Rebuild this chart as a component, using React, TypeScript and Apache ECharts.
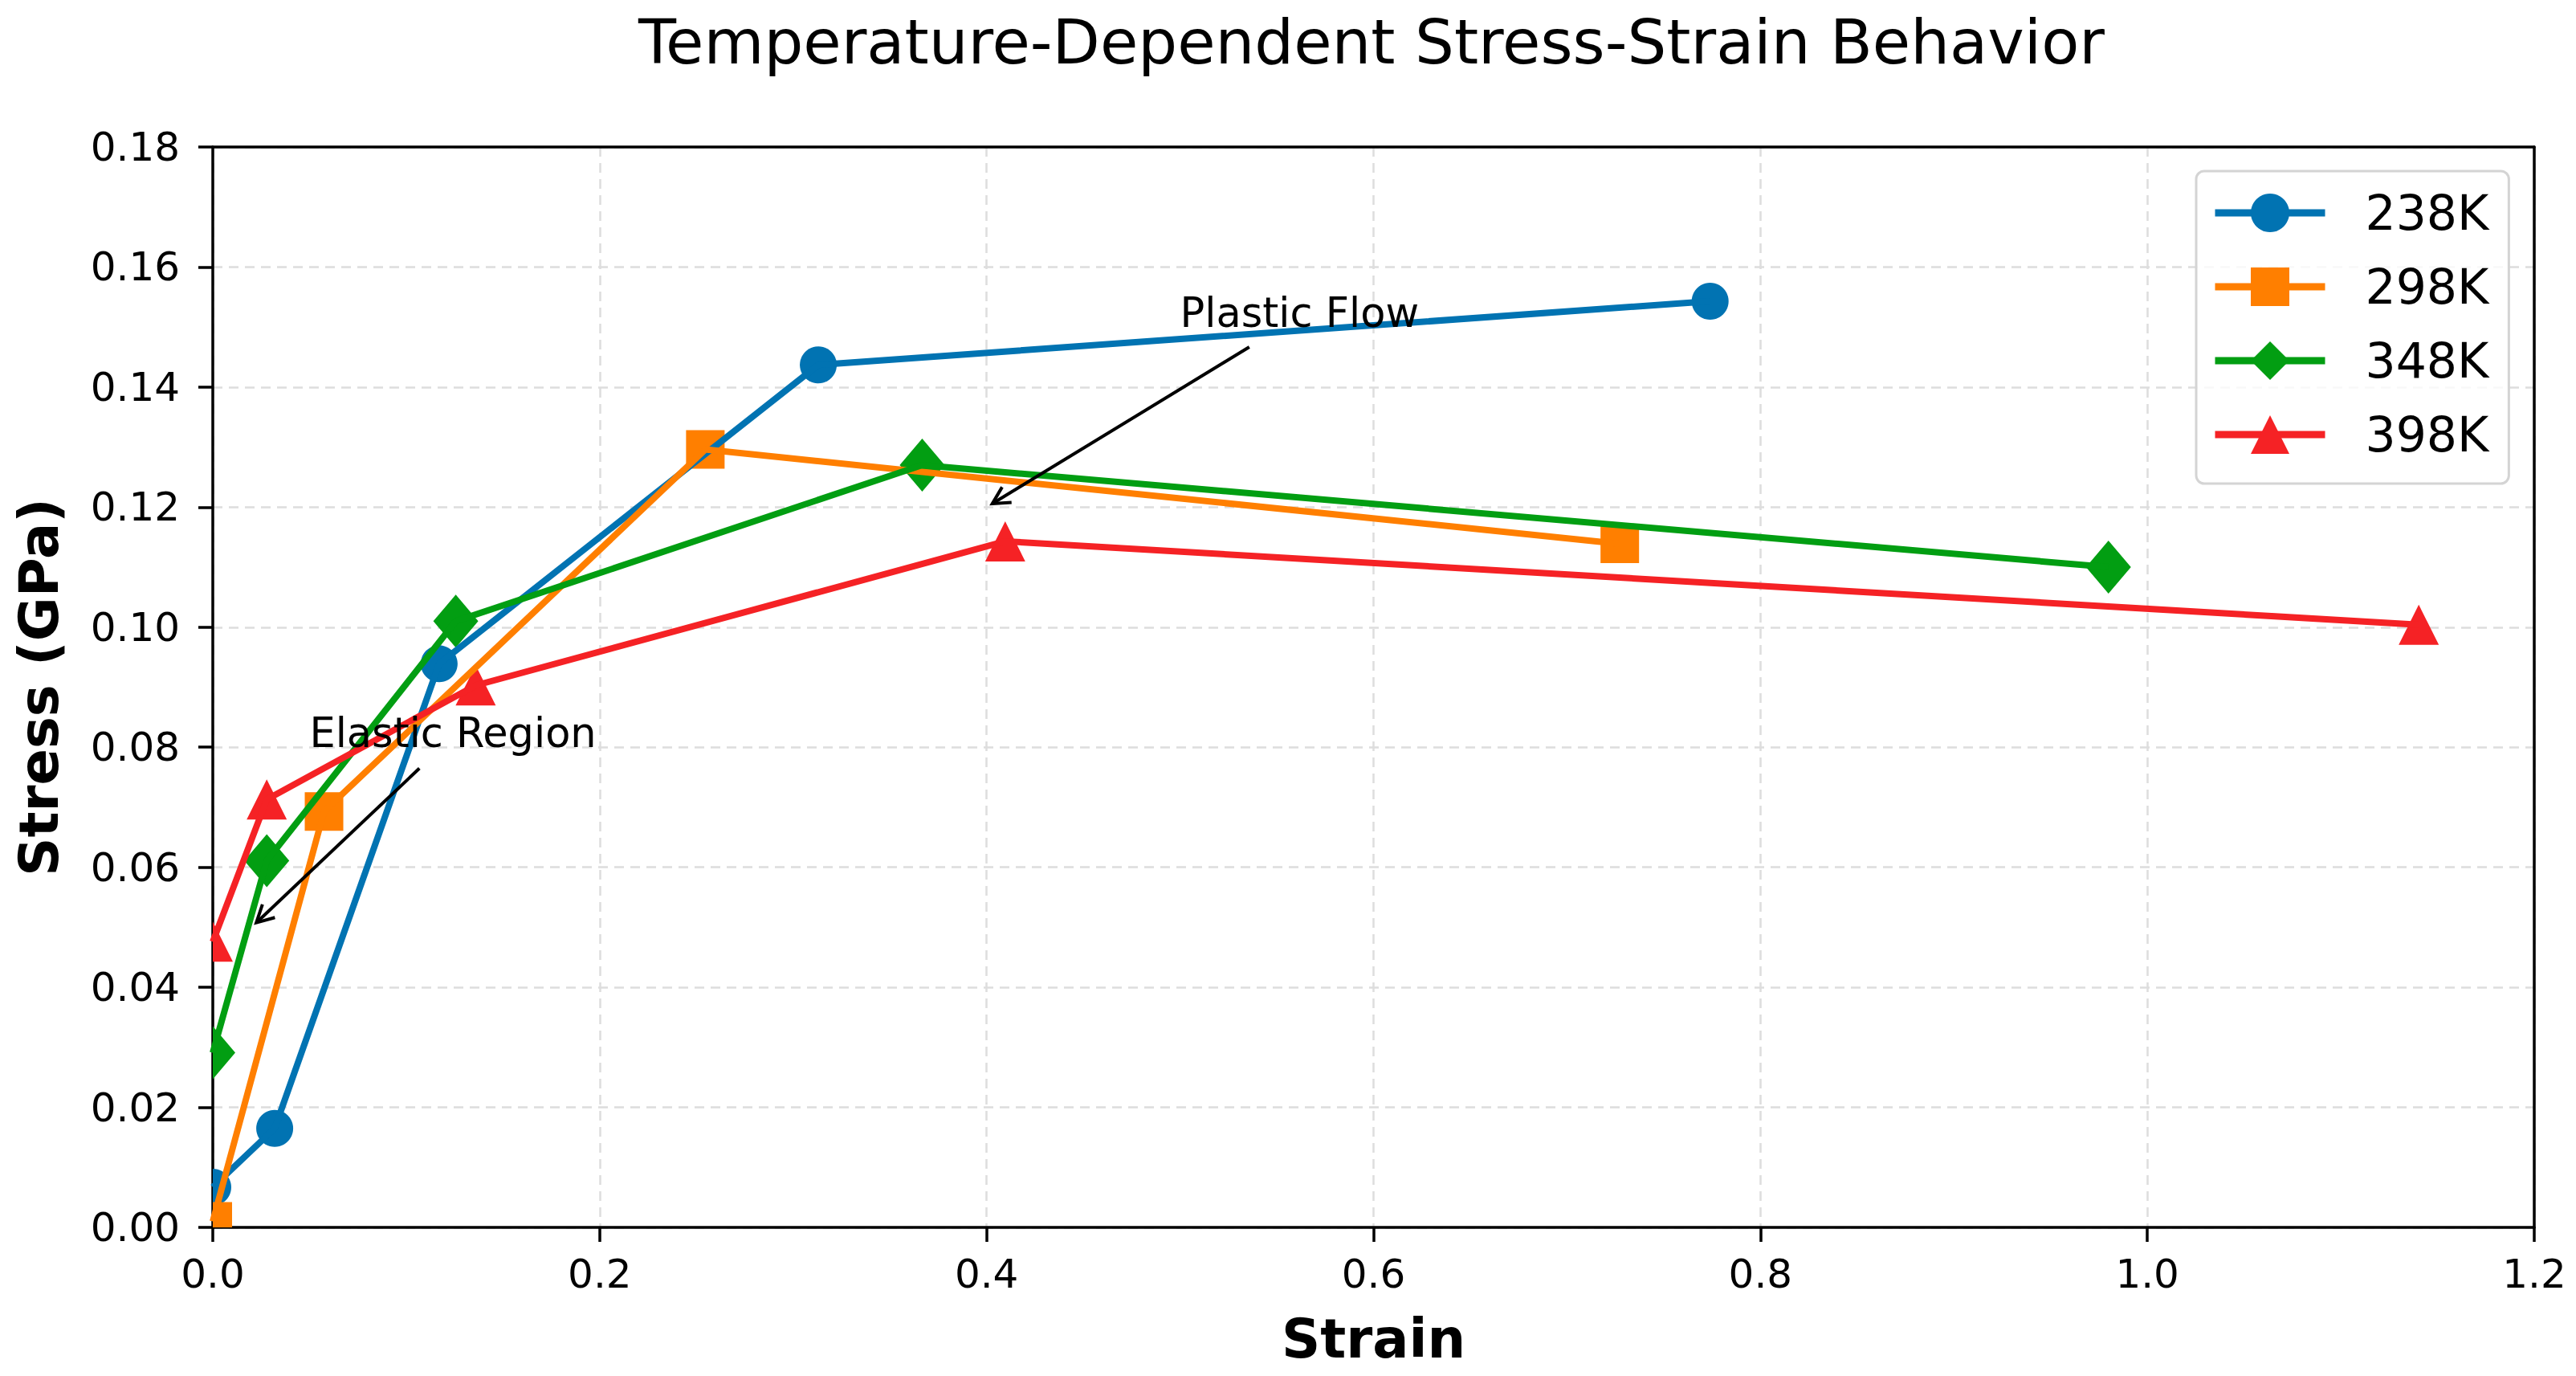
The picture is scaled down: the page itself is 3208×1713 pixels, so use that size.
import React, { useEffect, useRef } from "react";
import * as echarts from "echarts";

const TITLE = "Temperature-Dependent Stress-Strain Behavior";
const X_NAME = "Strain";
const Y_NAME = "Stress (GPa)";

const xTicks = [0, 0.2, 0.4, 0.6, 0.8, 1.0, 1.2];
const yTicks = [0, 0.02, 0.04, 0.06, 0.08, 0.1, 0.12, 0.14, 0.16, 0.18];

const seriesNames = ["238K", "298K", "348K", "398K"];
const seriesColors = ["#0173b2", "#ff7f00", "#029e12", "#f52225"];
const seriesSymbols = ["circle", "rect", "diamond", "triangle"];

const strain238K = [0, 0.032, 0.117, 0.313, 0.774];
const stress238K = [0.0067, 0.0165, 0.0939, 0.1437, 0.1543];
const strain298K = [0, 0.0575, 0.2546, 0.7273];
const stress298K = [0.001, 0.0693, 0.1296, 0.1139];
const strain348K = [0, 0.0279, 0.1256, 0.3667, 0.9799];
const stress348K = [0.0291, 0.0611, 0.101, 0.127, 0.11];
const strain398K = [0, 0.0279, 0.1359, 0.4096, 1.1403];
const stress398K = [0.0476, 0.0713, 0.0903, 0.1143, 0.1004];

const strains = [strain238K, strain298K, strain348K, strain398K];
const stresses = [stress238K, stress298K, stress348K, stress398K];

const annotationTexts = ["Plastic Flow", "Elastic Region"];
const annotationTargets = [
  [0.4, 0.12],
  [0.02, 0.05],
];
const annotationTextAnchors = [
  [0.5, 0.15],
  [0.05, 0.08],
];

const FONT = "DejaVu Sans";
const W = 3208;
const H = 1713;

function measure(text: string, font: string): number {
  const c = document.createElement("canvas");
  const ctx = c.getContext("2d");
  if (!ctx) return text.length * 30;
  ctx.font = font;
  return ctx.measureText(text).width;
}

function markerRenderer(kind: string, color: string) {
  return (_params: any, api: any) => {
    const p = api.coord([api.value(0), api.value(1)]);
    const x = p[0];
    const y = p[1];
    if (kind === "circle") {
      return { type: "circle", shape: { cx: x, cy: y, r: 23 }, style: { fill: color } };
    }
    if (kind === "rect") {
      return { type: "rect", shape: { x: x - 24, y: y - 24, width: 48, height: 48 }, style: { fill: color } };
    }
    if (kind === "diamond") {
      return {
        type: "polygon",
        shape: { points: [[x, y - 33], [x + 28, y], [x, y + 33], [x - 28, y]] },
        style: { fill: color },
      };
    }
    return {
      type: "polygon",
      shape: { points: [[x, y - 25], [x + 25, y + 25], [x - 25, y + 25]] },
      style: { fill: color },
    };
  };
}

export default function App() {
  const ref = useRef<HTMLDivElement>(null);

  useEffect(() => {
    if (!ref.current) return;
    const chart = echarts.init(ref.current, null, { renderer: "svg" });

    const titleFs = 77;
    const titleW = measure(TITLE, `${titleFs}px "${FONT}"`);

    const series: any[] = [];
    seriesNames.forEach((name, i) => {
      const data = strains[i].map((x, j) => [x, stresses[i][j]]);
      series.push({
        type: "line",
        name,
        data,
        symbol: seriesSymbols[i],
        symbolSize: 46,
        showSymbol: false,
        clip: true,
        color: seriesColors[i],
        lineStyle: { color: seriesColors[i], width: 8 },
        itemStyle: { color: seriesColors[i] },
        emphasis: { disabled: true },
      });
      series.push({
        type: "custom",
        name: name + " markers",
        data,
        clip: true,
        encode: { x: 0, y: 1 },
        renderItem: markerRenderer(seriesSymbols[i], seriesColors[i]),
        silent: true,
      });
    });

    const frameAxis = {
      axisLine: { show: true, onZero: false, lineStyle: { color: "#000", width: 3.5 } },
      axisTick: { show: false },
      axisLabel: { show: false },
      splitLine: { show: false },
    };

    const option: any = {
      animation: false,
      backgroundColor: "#ffffff",
      textStyle: { fontFamily: FONT },
      title: {
        text: TITLE,
        left: 1708 - titleW / 2 - 5,
        top: 9,
        textStyle: { fontSize: titleFs, fontWeight: "normal", color: "#000", fontFamily: FONT },
      },
      legend: {
        data: seriesNames,
        orient: "vertical",
        left: 2735,
        top: 213,
        padding: [22, 25, 31, 19],
        itemWidth: 137,
        itemHeight: 60,
        itemGap: 32,
        selectedMode: false,
        backgroundColor: "rgba(255,255,255,0.8)",
        borderColor: "#d4d4d4",
        borderWidth: 3,
        borderRadius: 10,
        lineStyle: { width: 9 },
        textStyle: { fontSize: 60, color: "#000", fontFamily: FONT, padding: [0, 0, 0, 45] },
      },
      grid: {
        left: 265,
        right: W - 3156,
        top: 183,
        bottom: H - 1528,
        show: false,
      },
      xAxis: [
        {
          type: "value",
          min: xTicks[0],
          max: xTicks[xTicks.length - 1],
          interval: 0.2,
          name: X_NAME,
          nameLocation: "middle",
          nameGap: 105,
          nameTextStyle: { fontSize: 67, fontWeight: "bold", color: "#000", fontFamily: FONT },
          axisLine: { show: true, onZero: false, lineStyle: { color: "#000", width: 3.5 } },
          axisTick: { show: true, inside: false, length: 18, lineStyle: { color: "#000", width: 3.5 } },
          axisLabel: {
            fontSize: 50,
            color: "#000",
            margin: 33,
            fontFamily: FONT,
            formatter: (v: number) => v.toFixed(1),
          },
          splitLine: { show: true, lineStyle: { color: "#dddddd", width: 2.5, type: [12, 8] } },
        },
        {
          type: "value",
          position: "top",
          min: xTicks[0],
          max: xTicks[xTicks.length - 1],
          interval: 0.2,
          ...frameAxis,
        },
      ],
      yAxis: [
        {
          type: "value",
          min: yTicks[0],
          max: yTicks[yTicks.length - 1],
          interval: 0.02,
          name: Y_NAME,
          nameLocation: "middle",
          nameRotate: 90,
          nameGap: 183,
          nameTextStyle: { fontSize: 67, fontWeight: "bold", color: "#000", fontFamily: FONT },
          axisLine: { show: true, onZero: false, lineStyle: { color: "#000", width: 3.5 } },
          axisTick: { show: true, inside: false, length: 18, lineStyle: { color: "#000", width: 3.5 } },
          axisLabel: {
            fontSize: 50,
            color: "#000",
            margin: 41,
            fontFamily: FONT,
            formatter: (v: number) => v.toFixed(2),
          },
          splitLine: { show: true, lineStyle: { color: "#dddddd", width: 2.5, type: [12, 8] } },
        },
        {
          type: "value",
          position: "right",
          min: yTicks[0],
          max: yTicks[yTicks.length - 1],
          interval: 0.02,
          ...frameAxis,
        },
      ],
      series,
    };

    chart.setOption(option);

    // Annotations (matplotlib-like annotate with "->" arrows)
    const annFs = 51;
    const shrink = 8.3;
    const pad = 8.3;
    const graphics: any[] = [];
    annotationTexts.forEach((txt, i) => {
      const tp = chart.convertToPixel({ xAxisIndex: 0, yAxisIndex: 0 }, annotationTextAnchors[i]) as number[];
      const P = chart.convertToPixel({ xAxisIndex: 0, yAxisIndex: 0 }, annotationTargets[i]) as number[];
      const w = measure(txt, `${annFs}px "${FONT}"`);
      const x0 = tp[0];
      const x1 = tp[0] + w;
      const y0 = tp[1] - 0.76 * annFs;
      const y1 = tp[1] + 0.24 * annFs;
      const cx = (x0 + x1) / 2;
      const cy = (y0 + y1) / 2;
      const dx = P[0] - cx;
      const dy = P[1] - cy;
      const len = Math.hypot(dx, dy);
      const ux = dx / len;
      const uy = dy / len;
      const hw = (x1 - x0) / 2 + pad;
      const hh = (y1 - y0) / 2 + pad;
      const t = Math.min(Math.abs(dx) > 1e-6 ? hw / Math.abs(dx) : 1e9, Math.abs(dy) > 1e-6 ? hh / Math.abs(dy) : 1e9);
      const sx = cx + dx * t + ux * shrink;
      const sy = cy + dy * t + uy * shrink;
      const ex = P[0] - ux * shrink;
      const ey = P[1] - uy * shrink;
      const armLen = 24;
      const ang = (28 * Math.PI) / 180;
      const bx = -ux;
      const by = -uy;
      const rot = (a: number) => [
        ex + armLen * (bx * Math.cos(a) - by * Math.sin(a)),
        ey + armLen * (bx * Math.sin(a) + by * Math.cos(a)),
      ];
      graphics.push({
        type: "text",
        x: tp[0],
        y: tp[1] - 0.346 * annFs,
        z: 100,
        style: {
          text: txt,
          fontSize: annFs,
          fontFamily: FONT,
          fill: "#000",
          align: "left",
          verticalAlign: "middle",
        },
      });
      graphics.push({
        type: "polyline",
        z: 100,
        shape: { points: [[sx, sy], [ex, ey]] },
        style: { stroke: "#000", lineWidth: 4, fill: null },
      });
      graphics.push({
        type: "polyline",
        z: 100,
        shape: { points: [rot(ang), [ex, ey], rot(-ang)] },
        style: { stroke: "#000", lineWidth: 4, fill: null, lineJoin: "miter" },
      });
    });
    chart.setOption({ graphic: graphics });

    return () => {
      chart.dispose();
    };
  }, []);

  return (
    <div
      ref={ref}
      style={{ position: "absolute", left: 0, top: 0, width: W, height: H, background: "#fff" }}
    />
  );
}
